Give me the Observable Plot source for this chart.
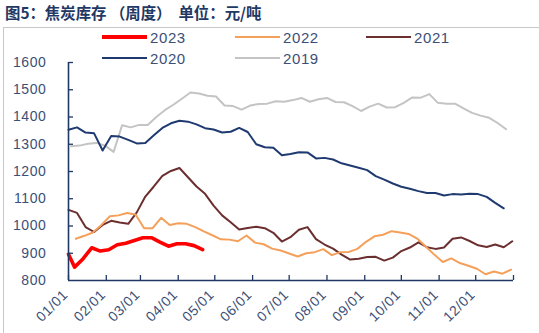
<!DOCTYPE html>
<html>
<head>
<meta charset="utf-8">
<script src="https://cdn.jsdelivr.net/npm/d3@7"></script>
<script src="https://cdn.jsdelivr.net/npm/@observablehq/plot@0.6"></script>
<style>
  body { margin: 0; background: #fff; width: 539px; height: 333px; overflow: hidden; position: relative; font-family: "Liberation Sans", Arial, sans-serif; }
  #title { position: absolute; left: 5px; top: 1px; font-family: "Noto Sans CJK SC", sans-serif; font-weight: bold; font-size: 15.4px; color: #1f3864; white-space: pre; }
  #frame { position: absolute; left: 3px; top: 27px; width: 560px; height: 330px; border-top: 1px solid #c8c8c8; border-left: 1px solid #c8c8c8; }
  #chart { position: absolute; left: 0; top: 0; }
  #legend { position: absolute; left: 0; top: 0; }
  .item { position: absolute; display: flex; align-items: center; height: 20px; font-size: 15px; color: #3c4f77; letter-spacing: 0.6px; }
  .swatch { width: 45px; margin-right: 3px; }
</style>
</head>
<body>
<div id="frame"></div>
<div id="title">图5：焦炭库存 （周度）  单位：元/吨</div>
<div id="chart"></div>
<div id="legend"></div>
<script>
// ---- data ----
const monthLabels = ["01/01","02/01","03/01","04/01","05/01","06/01","07/01","08/01","09/01","10/01","11/01","12/01"];
const yTicks = [800, 900, 1000, 1100, 1200, 1300, 1400, 1500, 1600];

// weekly values; first point at the given day-of-year, then every 7 days
const start2019 = 2;
const v2019 = [1293,1295,1302,1305,1295,1272,1370,1362,1371,1371,1400,1425,1445,1467,1490,1486,1478,1475,1442,1440,1427,1442,1448,1449,1458,1456,1462,1470,1456,1465,1470,1455,1454,1440,1422,1438,1449,1435,1436,1452,1472,1471,1484,1452,1449,1449,1432,1415,1405,1397,1378,1355];
const start2020 = 0;
const v2020 = [1353,1362,1343,1340,1277,1330,1328,1316,1303,1305,1333,1360,1377,1386,1383,1373,1359,1354,1343,1346,1360,1345,1300,1289,1287,1260,1264,1271,1270,1248,1250,1244,1230,1222,1214,1205,1183,1170,1156,1144,1137,1128,1121,1121,1112,1117,1116,1118,1117,1107,1085,1065];
const start2021 = 0;
const v2021 = [1059,1048,996,978,1004,1019,1013,1008,1050,1108,1145,1184,1202,1213,1179,1145,1118,1075,1039,1014,987,993,997,992,975,943,959,986,996,952,932,917,895,877,880,886,887,873,884,908,921,940,922,916,921,953,958,945,929,923,932,922,944];
const start2022 = 6;
const v2022 = [953,964,976,1004,1036,1039,1048,1042,992,992,1030,1004,1010,1008,996,980,966,951,950,944,965,939,933,917,910,899,888,900,904,915,893,904,905,916,942,962,968,981,976,971,954,925,895,868,881,864,854,843,823,833,825,840];
const days2023 = [0,5,12,19,26,33,40,47,54,61,68,75,82,89,96,103,110];
const v2023 = [896,849,880,920,908,913,931,937,947,957,957,941,926,935,935,928,913];

const years  = ["2023","2022","2021","2020","2019"];
const colors = ["#ff0000","#f5a05a","#6b2f2f","#1f3a70","#c4c4c4"];
const widths = [3.6, 2, 2, 2, 2];

// ---- build rows ----
const base = Date.UTC(2021, 0, 1);
const toDate = d => new Date(base + d * 864e5);
const series = [
  {year: "2019", days: v2019.map((_, i) => start2019 + 7 * i), values: v2019},
  {year: "2020", days: v2020.map((_, i) => start2020 + 7 * i), values: v2020},
  {year: "2021", days: v2021.map((_, i) => start2021 + 7 * i), values: v2021},
  {year: "2022", days: v2022.map((_, i) => start2022 + 7 * i), values: v2022},
  {year: "2023", days: days2023, values: v2023}
];
const monthTicks = d3.range(13).map(m => new Date(Date.UTC(2021, m, 1)));

const axisColor = "#1f3864";
const textColor = "#3c4f77";

const lineMarks = series.map(s => {
  const k = years.indexOf(s.year);
  const rows = s.values.map((v, i) => ({date: toDate(s.days[i]), value: v}));
  return Plot.line(rows, {x: "date", y: "value", stroke: colors[k], strokeWidth: widths[k], strokeLinejoin: "round", strokeLinecap: "round"});
});

const chart = Plot.plot({
  width: 539, height: 333,
  marginTop: 62, marginBottom: 53, marginLeft: 68, marginRight: 26,
  style: {fontFamily: "'Liberation Sans', Arial, sans-serif", fontSize: "14px", color: textColor, background: "transparent"},
  x: {type: "utc", domain: [monthTicks[0], monthTicks[12]]},
  y: {domain: [800, 1600]},
  marks: [
    Plot.axisY(yTicks, {tickSize: 0, tickPadding: 22, label: null, fill: textColor, fontSize: 14, tickFormat: d => String(d)}),
    Plot.axisX(monthTicks.slice(0, 12), {tickSize: 0, tickPadding: 12, tickRotate: -45, label: null, fill: textColor, fontSize: 14, dx: -3,
      tickFormat: d => monthLabels[d.getUTCMonth()]}),
    ...lineMarks,
    Plot.ruleY(yTicks.slice(1), {stroke: axisColor, strokeWidth: 1.3, insetRight: 440}),
    Plot.ruleX(monthTicks, {stroke: axisColor, strokeWidth: 1.3, insetTop: 213}),
    Plot.ruleX([monthTicks[0]], {stroke: axisColor, strokeWidth: 1.6}),
    Plot.ruleY([800], {stroke: axisColor, strokeWidth: 1.6})
  ]
});
chart.querySelectorAll("text").forEach(t => t.setAttribute("letter-spacing", "0.6"));
document.getElementById("chart").appendChild(chart);

// ---- legend ----
const legendPos = {"2023": [102, 27], "2022": [235, 27], "2021": [366, 27], "2020": [102, 48], "2019": [235, 48]};
const legend = document.getElementById("legend");
years.forEach((y, k) => {
  const item = document.createElement("div");
  item.className = "item";
  item.style.left = legendPos[y][0] + "px";
  item.style.top = legendPos[y][1] + "px";
  const sw = document.createElement("span");
  sw.className = "swatch";
  sw.style.height = (k === 0 ? 4 : 2) + "px";
  sw.style.background = colors[k];
  item.appendChild(sw);
  item.appendChild(document.createTextNode(y));
  legend.appendChild(item);
});
</script>
</body>
</html>
